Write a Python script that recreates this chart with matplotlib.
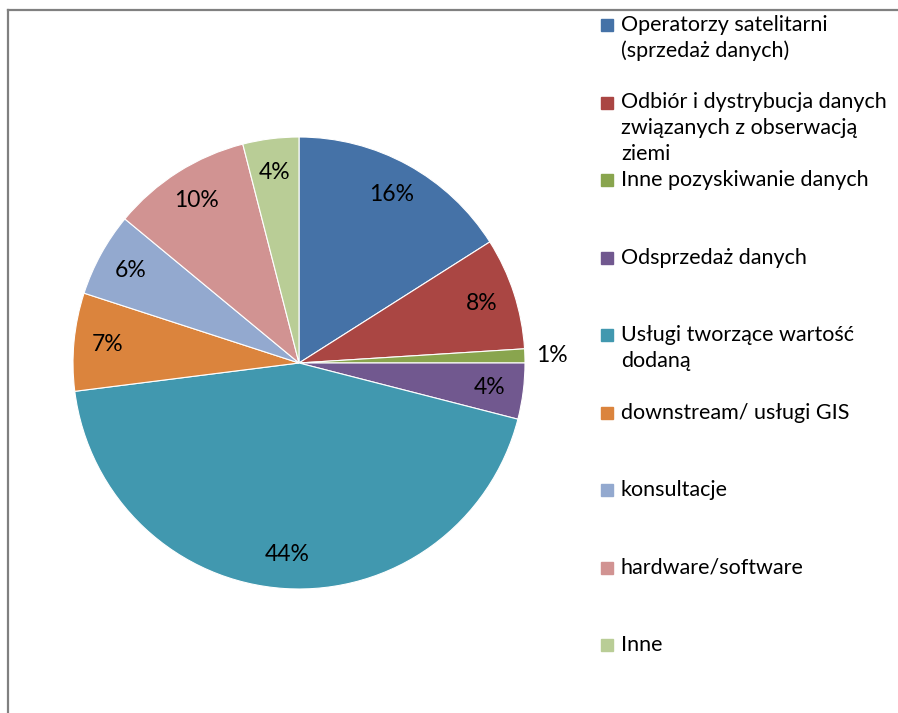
import matplotlib
matplotlib.use('Agg')
import matplotlib.pyplot as plt
from matplotlib.patches import Rectangle
from matplotlib.lines import Line2D

# dane
categories = ['Operatorzy satelitarni\n(sprzedaż danych)',
              'Odbiór i dystrybucja danych\nzwiązanych z obserwacją\nziemi',
              'Inne pozyskiwanie danych',
              'Odsprzedaż danych',
              'Usługi tworzące wartość\ndodaną',
              'downstream/ usługi GIS',
              'konsultacje',
              'hardware/software',
              'Inne']
shares = [16, 8, 1, 4, 44, 7, 6, 10, 4]
colors = ['#4572A7', '#AA4643', '#89A54E', '#71588F', '#4198AF',
          '#DB843D', '#93A9CF', '#D19392', '#B9CD96']

plt.rcParams['font.family'] = ['Lato', 'DejaVu Sans']
W, H = 898, 713
fig = plt.figure(figsize=(W / 100, H / 100), dpi=100)

# ramka (lewa i gorna krawedz)
fig.add_artist(Line2D([8 / W, 8 / W], [0, 1 - 10 / H], color='#808080', lw=1.6))
fig.add_artist(Line2D([8 / W, 1], [1 - 10 / H, 1 - 10 / H], color='#808080', lw=1.6))

# wykres kolowy
cx, cy, r = 299, 363, 226
ax = fig.add_axes([(cx - r) / W, (H - cy - r) / H, 2 * r / W, 2 * r / H])
wedges, texts, autotexts = ax.pie(shares, colors=colors, startangle=90, counterclock=False,
                                  autopct='%.0f%%', pctdistance=0.85,
                                  wedgeprops=dict(edgecolor='white', linewidth=0.8),
                                  textprops=dict(fontsize=16.5, color='black'))
ax.set_xlim(-1, 1)
ax.set_ylim(-1, 1)
ax.set_aspect('auto')
ax.axis('off')

# etykieta 1% na zewnatrz
x, y = autotexts[2].get_position()
autotexts[2].set_position((x / 0.85 * 1.12, y / 0.85 * 1.12))

# legenda
for i, (cat, col) in enumerate(zip(categories, colors)):
    yc = 25 + 77.5 * i
    fig.add_artist(Rectangle((601 / W, 1 - (yc + 6) / H), 12 / W, 12 / H,
                             transform=fig.transFigure, color=col))
    for k, line in enumerate(cat.split('\n')):
        fig.text(621 / W, 1 - (yc + 6 + 26 * k) / H, line, fontsize=15.5,
                 va='baseline', ha='left')

fig.savefig('out.png', dpi=100)
